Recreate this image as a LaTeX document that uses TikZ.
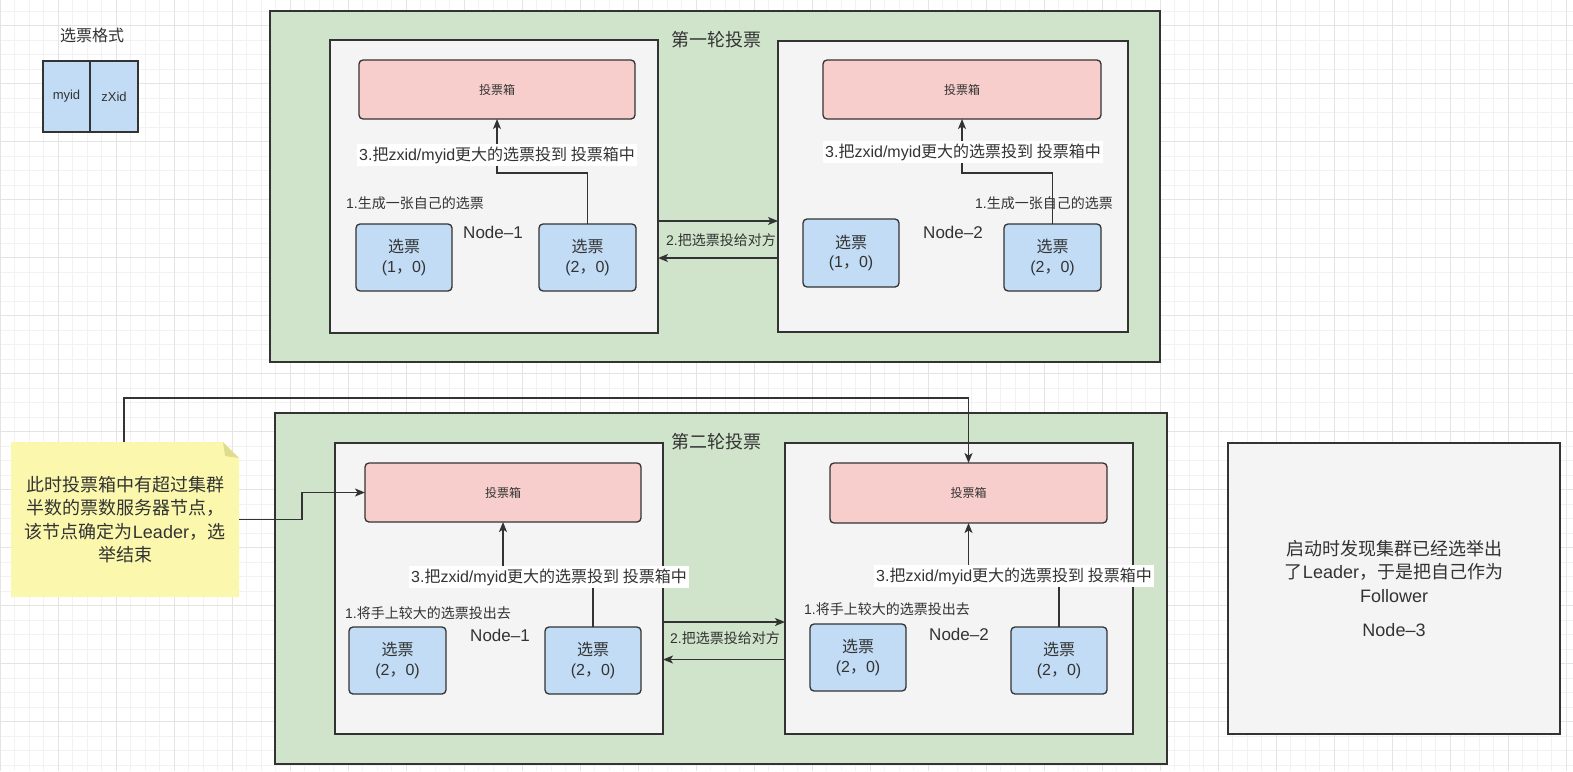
\documentclass[tikz,border=0pt]{standalone}
\usepackage{fontspec}
\setmainfont{Noto Sans CJK SC}
\newfontfamily\latfont{Liberation Sans}
\newcommand\lt[1]{{\latfont #1}}
\usetikzlibrary{arrows.meta,calc}
\definecolor{stroke}{HTML}{333333}
\definecolor{txt}{HTML}{333333}
\definecolor{grn}{HTML}{D0E4CB}
\definecolor{gry}{HTML}{F4F4F4}
\definecolor{pnk}{HTML}{F8CECC}
\definecolor{blu}{HTML}{C2DCF5}
\definecolor{yel}{HTML}{FBF8AD}
\definecolor{fold}{HTML}{E0DB8E}
\definecolor{gmin}{HTML}{F2F2F2}
\definecolor{gmaj}{HTML}{E4E4E4}
\begin{document}
\begin{tikzpicture}[x=1pt,y=-1pt,
  every node/.style={text=txt, inner sep=0pt, outer sep=0pt},
  f12/.style={font=\fontsize{12}{14}\selectfont},
  f13/.style={font=\fontsize{13}{15}\selectfont},
  f14/.style={font=\fontsize{14}{17}\selectfont},
  f16/.style={font=\fontsize{16}{19.5}\selectfont},
  f17/.style={font=\fontsize{17}{20}\selectfont},
  f18/.style={font=\fontsize{18}{23.5}\selectfont},
  frame/.style={draw=stroke, line width=1.3pt, rectangle},
  group/.style={frame, fill=grn},
  server/.style={frame, fill=gry},
  ballotbox/.style={frame, fill=pnk, rounded corners=4pt, f12},
  ticket/.style={frame, fill=blu, rounded corners=4pt, f16, align=center, minimum width=96, minimum height=67},
  arr/.style={draw=stroke, line width=1.3pt, -{Stealth[length=10pt,width=8pt,inset=2.5pt]}},
  conn/.style={draw=stroke, line width=1.3pt},
  whitelabel/.style={fill=white, inner xsep=2pt, inner ysep=3pt, f16},
]
% background and grid
\fill[white] (0,0) rectangle (1573,771);
\useasboundingbox (0,0) rectangle (1573,771);
\foreach \i in {0,...,108} {\draw[gmin, line width=0.8pt] ({14.5*\i},0) -- ({14.5*\i},771);}
\foreach \i in {0,...,52} {\draw[gmin, line width=0.8pt] (0,{11+14.5*\i}) -- (1573,{11+14.5*\i});}
\foreach \i in {0,...,27} {\draw[gmaj, line width=0.8pt] ({58*\i},0) -- ({58*\i},771);}
\foreach \i in {0,...,13} {\draw[gmaj, line width=0.8pt] (0,{25.5+58*\i}) -- (1573,{25.5+58*\i});}

% legend
\node[f16] (legtitle) at (92,35) {选票格式};
\node[frame, fill=blu, minimum width=47, minimum height=71, f13] (myid) at (66.5,96.5) {\lt{myid}};
\node[frame, fill=blu, minimum width=48, minimum height=71, f13] (zxid) at (114,96.5) {\lt{zXid}};

% ===== round 1 =====
\node[group, minimum width=890, minimum height=351] (g1) at (715,186.5) {};
\node[f18] (t1) at (716,40) {第一轮投票};
\node[server, minimum width=328, minimum height=293] (n1) at (494,186.5) {};
\node[server, minimum width=350, minimum height=291] (n2) at (953,186.5) {};

\node[ballotbox, minimum width=276, minimum height=59] (b1) at (497,89.5) {投票箱};
\node[ticket] (v11) at (404,257.5) {选票\\\lt{(1}，\lt{0)}};
\node[ticket, minimum width=97] (v12) at (587.5,257.5) {选票\\\lt{(2}，\lt{0)}};
\draw[arr] (v12.north) -- ++(0,-51) -| (b1.south);
\node[whitelabel] (l13) at (497,155) {\lt{3.}把\lt{zxid/myid}更大的选票投到 投票箱中};
\node[f14] (l11) at (415,203) {\lt{1.}生成一张自己的选票};
\node[f17] (nm1) at (493,232) {\lt{Node–1}};

\node[ballotbox, minimum width=278, minimum height=59] (b2) at (962,89.5) {投票箱};
\node[ticket, minimum height=68] (v21) at (851,253) {选票\\\lt{(1}，\lt{0)}};
\node[ticket, minimum width=97] (v22) at (1052.5,257.5) {选票\\\lt{(2}，\lt{0)}};
\draw[arr] (v22.north) -- ++(0,-51) -| (b2.south);
\node[whitelabel] (l23) at (963,152) {\lt{3.}把\lt{zxid/myid}更大的选票投到 投票箱中};
\node[f14] (l21) at (1044,203) {\lt{1.}生成一张自己的选票};
\node[f17] (nm2) at (953,232) {\lt{Node–2}};

\draw[arr] ([yshift=-34.5pt]n1.east) -- ([yshift=-34.5pt]n2.west);
\draw[arr] ([yshift=-71.5pt]n2.west) -- ([yshift=-71.5pt]n1.east);
\node[f14] (x1) at (721,240) {\lt{2.}把选票投给对方};

% ===== round 2 =====
\node[group, minimum width=892, minimum height=351] (g2) at (721,588.5) {};
\node[f18] (t2) at (716,442) {第二轮投票};
\node[server, minimum width=328, minimum height=291] (m1) at (499,588.5) {};
\node[server, minimum width=348, minimum height=291] (m2) at (959,588.5) {};

\node[ballotbox, minimum width=276, minimum height=59] (b3) at (503,492.5) {投票箱};
\node[ticket, minimum width=97] (w11) at (397.5,660.5) {选票\\\lt{(2}，\lt{0)}};
\node[ticket] (w12) at (593,660.5) {选票\\\lt{(2}，\lt{0)}};
\draw[arr] (w12.north) -- ++(0,-49) -| (b3.south);
\node[whitelabel] (l33) at (549,577) {\lt{3.}把\lt{zxid/myid}更大的选票投到 投票箱中};
\node[f14] (l31) at (428,613) {\lt{1.}将手上较大的选票投出去};
\node[f17] (nm3) at (500,635) {\lt{Node–1}};

\node[ballotbox, minimum width=277, minimum height=60] (b4) at (968.5,493) {投票箱};
\node[ticket] (w21) at (858,657.5) {选票\\\lt{(2}，\lt{0)}};
\node[ticket] (w22) at (1059,660.5) {选票\\\lt{(2}，\lt{0)}};
\draw[arr] (w22.north) -- ++(0,-51) -| (b4.south);
\node[whitelabel] (l43) at (1014,576) {\lt{3.}把\lt{zxid/myid}更大的选票投到 投票箱中};
\node[f14] (l41) at (887,609) {\lt{1.}将手上较大的选票投出去};
\node[f17] (nm4) at (959,634) {\lt{Node–2}};

\draw[arr] ([yshift=-33.5pt]m1.east) -- ([yshift=-33.5pt]m2.west);
\draw[arr] ([yshift=-71pt]m2.west) -- ([yshift=-71pt]m1.east);
\node[f14] (x2) at (725,638) {\lt{2.}把选票投给对方};

% ===== note =====
\fill[yel] (11,442) -- (223,442) -- (239,458) -- (239,597) -- (11,597) -- cycle;
\fill[fold] (223,442) -- (239,458) -- (225,456) -- cycle;
\node[minimum width=228, minimum height=155, align=center, f18] (note) at (125,519.5)
  {此时投票箱中有超过集群\\半数的票数服务器节点，\\该节点确定为\lt{Leader}，选\\举结束};
\draw[arr] ([xshift=-1pt]note.north) -- ++(0,-44) -| (b4.north);
\draw[arr] (note.east) -- ++(63,0) |- (b3.west);

% ===== node 3 =====
\node[server, minimum width=332, minimum height=291, align=center, f18] (n3) at (1394,588.5)
  {启动时发现集群已经选举出\\了\lt{Leader}，于是把自己作为\\\lt{Follower}\\[11pt]\lt{Node–3}};
\end{tikzpicture}
\end{document}
